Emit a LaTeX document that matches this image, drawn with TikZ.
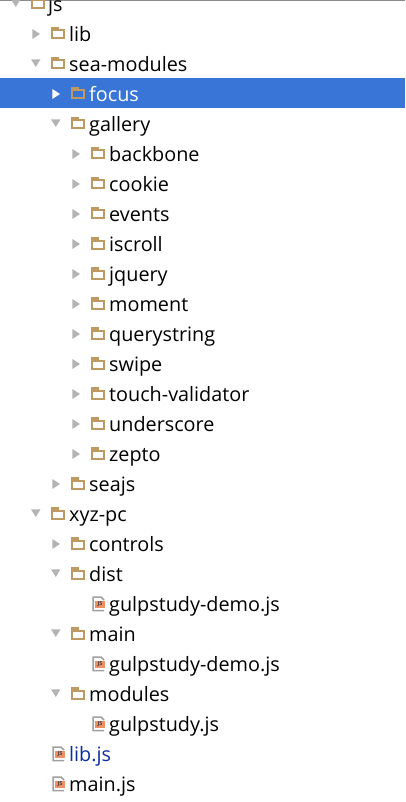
\documentclass[tikz,border=0pt]{standalone}
\usepackage{fontspec}
\setmainfont{Open Sans}
\definecolor{sel}{HTML}{3875D7}
\definecolor{tan}{HTML}{BE9A62}
\definecolor{tri}{HTML}{B4B4B4}
\definecolor{pagegrey}{HTML}{A0A0A0}
\definecolor{jsorange}{HTML}{EE8F66}
\definecolor{libblue}{HTML}{0B2FA0}
\tikzset{
  x=1pt,y=-1pt,
  label text/.style={anchor=base west,inner sep=0pt,font=\fontsize{19.8}{20}\selectfont,text=black},
  tab/.style={draw=tan,line width=2pt,line join=miter},
  js badge/.style={inner sep=0pt,font=\fontsize{5.5}{5.5}\selectfont\bfseries,text=black!75},
}
% #1 text-left x, #2 centre y
\newcommand{\foldericon}[2]{%
  \draw[tab] (#1-17,#2-3.5) rectangle (#1-5,#2+4.5);
  \fill[tan] (#1-18,#2-7) rectangle (#1-10,#2-3.5);
}
\newcommand{\rarrow}[3][tri]{\fill[#1] (#2-36.7,#3-5) -- (#2-29,#3) -- (#2-36.7,#3+5) -- cycle;}
\newcommand{\darrow}[2]{\fill[tri] (#1-38,#2-4.7) -- (#1-28.5,#2-4.7) -- (#1-33.2,#2+3) -- cycle;}
\newcommand{\jsicon}[2]{%
  \draw[pagegrey,line width=1.5pt] (#1-4.8,#2+6.5) -- (#1-16,#2+6.5) -- (#1-16,#2-7) -- (#1-8,#2-7) -- (#1-5,#2-4);
  \fill[jsorange] (#1-14,#2-3) rectangle (#1-4,#2+3.5);
  \node[js badge] at (#1-9,#2+.3) {JS};
}
\newcommand{\rowtext}[4][black]{\node[label text,text=#1] (n#2) at (#2,#3+7.8) {#4};}
\newcommand{\closedrow}[3]{\rarrow{#1}{#2}\foldericon{#1}{#2}\rowtext{#1}{#2}{#3}}
\newcommand{\openrow}[3]{\darrow{#1}{#2}\foldericon{#1}{#2}\rowtext{#1}{#2}{#3}}
\newcommand{\filerow}[3]{\jsicon{#1}{#2}\rowtext{#1}{#2}{#3}}
\begin{document}
\begin{tikzpicture}
\useasboundingbox (0,0) rectangle (405,802);
\fill[white] (0,0) rectangle (405,802);
\fill[sel] (0,78) rectangle (405,108);
\fill[black!45] (0,0) rectangle (405,1);
% js
\begin{scope}
\clip (0,1) rectangle (405,802);
\darrow{49}{4}\foldericon{49}{4}\node[label text] (njs) at (48,11.8) {js};
\end{scope}
\closedrow{69}{34}{lib}
\openrow{69}{64}{sea-modules}
% selected row
\rarrow[white]{89}{94}\foldericon{89}{94}\node[label text,text=white] (nfocus) at (89,101.8) {focus};
\openrow{89}{124}{gallery}
\closedrow{109}{154}{backbone}
\closedrow{109}{184}{cookie}
\closedrow{109}{214}{events}
\closedrow{109}{244}{iscroll}
\closedrow{109}{274}{jquery}
\closedrow{109}{304}{moment}
\closedrow{109}{334}{querystring}
\closedrow{109}{364}{swipe}
\closedrow{109}{394}{touch-validator}
\closedrow{109}{424}{underscore}
\closedrow{109}{454}{zepto}
\closedrow{89}{484}{seajs}
\openrow{69}{514}{xyz-pc}
\closedrow{89}{544}{controls}
\openrow{89}{574}{dist}
\filerow{109}{604}{gulpstudy-demo.js}
\openrow{89}{634}{main}
\filerow{109}{664}{gulpstudy-demo.js}
\openrow{89}{694}{modules}
\filerow{109}{724}{gulpstudy.js}
\jsicon{69}{754}\rowtext[libblue]{69}{754}{lib.js}
\filerow{69}{784}{main.js}
\end{tikzpicture}
\end{document}
